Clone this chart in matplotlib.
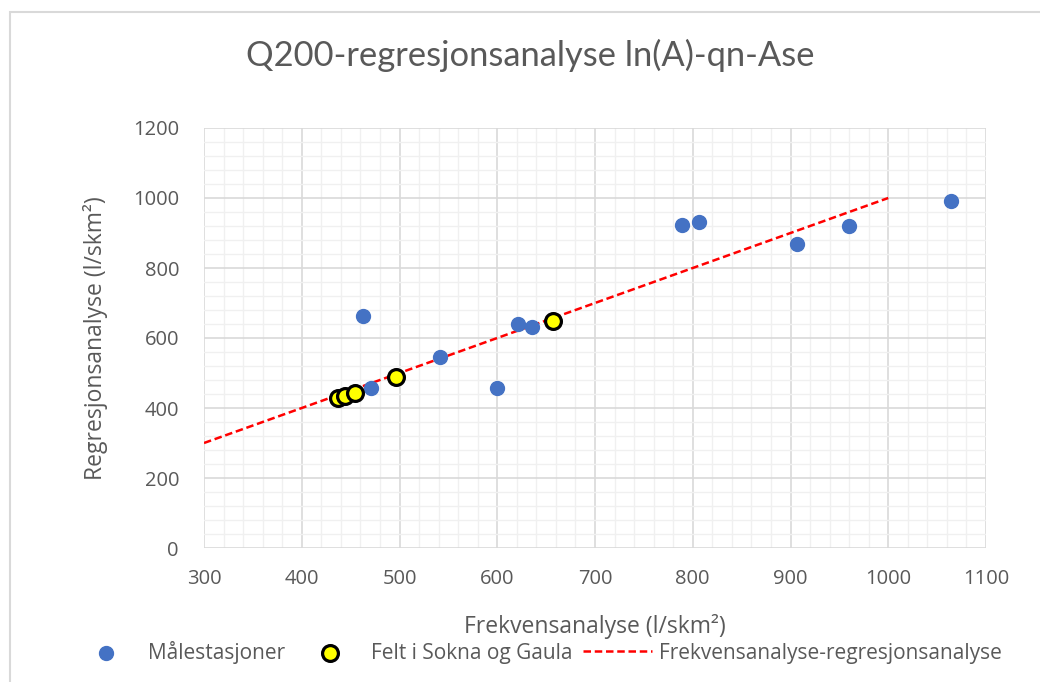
import matplotlib.pyplot as plt
from matplotlib.ticker import MultipleLocator
from matplotlib.patches import Rectangle

plt.rcParams['font.family'] = ['Open Sans', 'DejaVu Sans']

# Målestasjoner: frekvensanalyse vs regresjonsanalyse (l/skm2)
stasjon_frekv = [463, 471, 541, 600, 621, 636, 789, 806, 907, 960, 1064]
stasjon_regr = [663, 457, 547, 456, 640, 632, 923, 931, 869, 920, 992]

# Felt i Sokna og Gaula
felt_frekv = [437, 444, 454, 496, 657]
felt_regr = [428, 434, 444, 489, 649]

# 1:1 line
linje_x = [300, 1000]
linje_y = [300, 1000]

txt = '#595959'

fig = plt.figure(figsize=(10.4, 6.82), dpi=100)
ax = fig.add_axes([204 / 1040, 1 - 548 / 682, 782 / 1040, 420 / 682])

fig.patches.append(Rectangle((10 / 1040, -0.1), 1.2, 1 - 12 / 682 + 0.1,
                             transform=fig.transFigure, fill=False,
                             edgecolor='#d9d9d9', linewidth=1.5))

ax.set_xlim(300, 1100)
ax.set_ylim(0, 1200)
ax.xaxis.set_major_locator(MultipleLocator(100))
ax.xaxis.set_minor_locator(MultipleLocator(20))
ax.yaxis.set_major_locator(MultipleLocator(200))
ax.yaxis.set_minor_locator(MultipleLocator(40))
ax.grid(which='major', color='#d9d9d9', linewidth=1.2)
ax.grid(which='minor', color='#f0f0f0', linewidth=1.0)
ax.set_axisbelow(True)
for s in ax.spines.values():
    s.set_visible(False)
ax.tick_params(which='both', length=0, labelsize=14.5, labelcolor=txt)
ax.tick_params(axis='x', pad=15)
ax.tick_params(axis='y', pad=18)

ax.scatter(stasjon_frekv, stasjon_regr, s=100, color='#4472c4',
           label='Målestasjoner', zorder=3)
ax.scatter(felt_frekv, felt_regr, s=130, color='#ffff00', edgecolor='black',
           linewidth=2.3, label='Felt i Sokna og Gaula', zorder=4)
ax.plot(linje_x, linje_y, color='#ff0000', linestyle=(0, (3, 1.5)),
        linewidth=1.8, label='Frekvensanalyse-regresjonsanalyse', zorder=2)

ax.set_xlabel('Frekvensanalyse (l/skm²)', fontsize=16.5, color=txt, labelpad=18)
ax.set_ylabel('Regresjonsanalyse (l/skm²)', fontsize=16.5, color=txt, labelpad=18)
fig.text(530 / 1040, 1 - 55 / 682, 'Q200-regresjonsanalyse ln(A)-qn-Ase',
         ha='center', va='center', fontsize=24.8, color=txt,
         family=['Lato', 'DejaVu Sans'])

fig.legend(loc='center', bbox_to_anchor=(537 / 1040, 1 - 652 / 682), ncol=3,
           frameon=False, fontsize=15, labelcolor=txt, handlelength=3.3,
           columnspacing=0.5, handletextpad=0.35)

fig.savefig('out.png', dpi=100)
